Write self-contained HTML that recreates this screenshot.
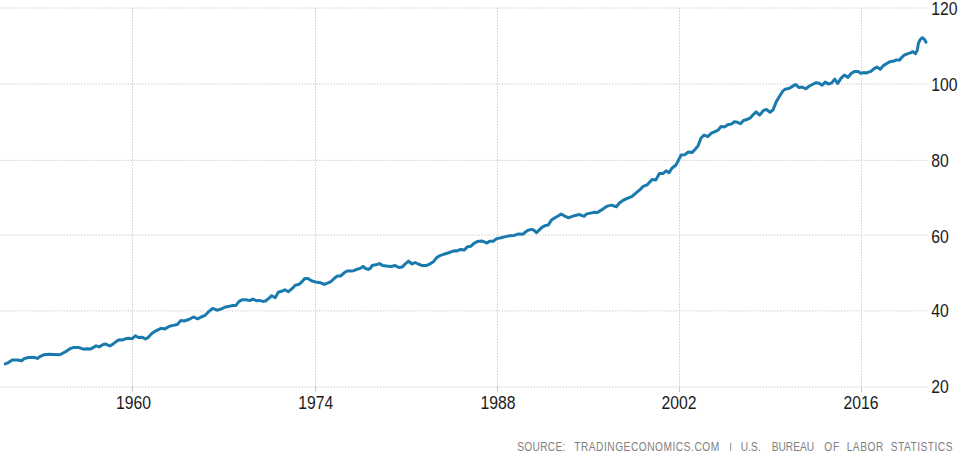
<!DOCTYPE html>
<html><head><meta charset="utf-8"><style>
html,body{margin:0;padding:0;background:#fff;}
body{width:960px;height:454px;overflow:hidden;}
svg{display:block;}
.ax{font-family:"Liberation Sans",sans-serif;font-size:17.5px;fill:#1a1a1a;}
.src{font-family:"Liberation Sans",sans-serif;font-size:12px;fill:#808080;}
</style></head><body>
<svg width="960" height="454" viewBox="0 0 960 454">
<line x1="0" y1="8" x2="928" y2="8" stroke="#cacaca" stroke-width="1" stroke-dasharray="1.4,1.5"/>
<line x1="0" y1="84.1" x2="928" y2="84.1" stroke="#cacaca" stroke-width="1" stroke-dasharray="1.4,1.5"/>
<line x1="0" y1="160.4" x2="928" y2="160.4" stroke="#cacaca" stroke-width="1" stroke-dasharray="1.4,1.5"/>
<line x1="0" y1="235" x2="928" y2="235" stroke="#cacaca" stroke-width="1" stroke-dasharray="1.4,1.5"/>
<line x1="0" y1="310.9" x2="928" y2="310.9" stroke="#cacaca" stroke-width="1" stroke-dasharray="1.4,1.5"/>
<line x1="0" y1="387" x2="928" y2="387" stroke="#cacaca" stroke-width="1" stroke-dasharray="1.4,1.5"/>
<line x1="132.5" y1="8" x2="132.5" y2="387" stroke="#cacaca" stroke-width="1" stroke-dasharray="1.4,1.5"/>
<line x1="132.5" y1="387" x2="132.5" y2="392" stroke="#cacaca" stroke-width="1"/>
<line x1="315.5" y1="8" x2="315.5" y2="387" stroke="#cacaca" stroke-width="1" stroke-dasharray="1.4,1.5"/>
<line x1="315.5" y1="387" x2="315.5" y2="392" stroke="#cacaca" stroke-width="1"/>
<line x1="497.5" y1="8" x2="497.5" y2="387" stroke="#cacaca" stroke-width="1" stroke-dasharray="1.4,1.5"/>
<line x1="497.5" y1="387" x2="497.5" y2="392" stroke="#cacaca" stroke-width="1"/>
<line x1="679.5" y1="8" x2="679.5" y2="387" stroke="#cacaca" stroke-width="1" stroke-dasharray="1.4,1.5"/>
<line x1="679.5" y1="387" x2="679.5" y2="392" stroke="#cacaca" stroke-width="1"/>
<line x1="861.5" y1="8" x2="861.5" y2="387" stroke="#cacaca" stroke-width="1" stroke-dasharray="1.4,1.5"/>
<line x1="861.5" y1="387" x2="861.5" y2="392" stroke="#cacaca" stroke-width="1"/>
<text x="931.3" y="14.8" class="ax" transform="translate(931.3 0) scale(0.9 1) translate(-931.3 0)">120</text>
<text x="931.3" y="91.0" class="ax" transform="translate(931.3 0) scale(0.9 1) translate(-931.3 0)">100</text>
<text x="931.3" y="167.2" class="ax" transform="translate(931.3 0) scale(0.9 1) translate(-931.3 0)">80</text>
<text x="931.3" y="243.2" class="ax" transform="translate(931.3 0) scale(0.9 1) translate(-931.3 0)">60</text>
<text x="931.3" y="317.1" class="ax" transform="translate(931.3 0) scale(0.9 1) translate(-931.3 0)">40</text>
<text x="931.3" y="393.2" class="ax" transform="translate(931.3 0) scale(0.9 1) translate(-931.3 0)">20</text>
<text x="133.6" y="409" class="ax" text-anchor="middle" transform="translate(133.6 0) scale(0.9 1) translate(-133.6 0)">1960</text>
<text x="315.7" y="409" class="ax" text-anchor="middle" transform="translate(315.7 0) scale(0.9 1) translate(-315.7 0)">1974</text>
<text x="497.9" y="409" class="ax" text-anchor="middle" transform="translate(497.9 0) scale(0.9 1) translate(-497.9 0)">1988</text>
<text x="679" y="409" class="ax" text-anchor="middle" transform="translate(679 0) scale(0.9 1) translate(-679 0)">2002</text>
<text x="860.9" y="409" class="ax" text-anchor="middle" transform="translate(860.9 0) scale(0.9 1) translate(-860.9 0)">2016</text>
<path d="M5.3,363.9 L8.4,362.6 L12.3,360.0 L17.6,360.1 L21.6,360.8 L24.2,358.6 L28.2,357.5 L33.5,357.3 L37.4,358.4 L40.5,356.3 L44.1,354.7 L49.3,354.2 L54.6,354.5 L59.0,354.8 L61.7,353.8 L65.2,351.9 L69.6,348.9 L73.1,347.6 L76.7,347.4 L78.5,347.4 L81.2,348.3 L83.8,349.2 L87.3,348.7 L90.9,348.9 L93.5,347.4 L96.1,345.8 L99.2,346.9 L103.2,344.5 L105.8,344.1 L109.8,346.0 L112.9,344.1 L116.4,341.4 L119.1,339.8 L122.1,340.1 L125.2,338.8 L128.7,338.3 L132.3,338.8 L135.4,335.7 L138.4,337.5 L142.0,337.2 L145.5,339.0 L148.1,337.5 L151.5,333.8 L155.3,331.1 L161.0,328.3 L165.0,328.9 L169.4,326.3 L173.3,325.4 L177.3,324.5 L180.8,320.6 L184.4,321.0 L188.8,319.5 L193.6,317.0 L197.6,318.8 L201.1,317.0 L204.6,315.7 L208.1,312.2 L212.6,308.4 L217.0,310.2 L221.4,308.9 L225.5,307.0 L229.4,306.2 L232.9,305.4 L236.0,305.4 L239.1,301.4 L242.6,299.7 L246.1,299.8 L249.7,300.6 L252.8,299.0 L256.3,300.7 L259.4,300.4 L262.9,301.4 L265.5,301.0 L269.1,298.1 L271.7,295.7 L275.2,297.7 L278.3,292.2 L281.4,291.3 L284.9,289.8 L288.4,291.7 L292.0,288.7 L295.0,285.4 L299.0,284.3 L301.7,282.0 L304.8,278.4 L307.9,278.4 L311.5,280.8 L315.4,281.9 L320.7,282.8 L324.2,284.4 L328.2,282.8 L331.3,281.3 L334.4,278.2 L337.4,276.0 L340.5,276.0 L343.6,273.3 L346.7,271.1 L350.7,271.1 L353.7,270.7 L357.3,269.2 L360.8,268.1 L363.0,266.3 L365.6,268.5 L368.3,269.4 L370.5,268.1 L372.2,265.4 L375.8,264.8 L379.4,263.6 L382.5,265.4 L386.5,266.0 L390.9,266.4 L395.3,265.6 L398.8,267.5 L402.3,266.9 L405.4,263.8 L408.5,261.1 L412.0,264.0 L415.1,262.5 L418.2,264.0 L421.7,265.4 L426.1,265.6 L429.6,264.2 L433.6,261.6 L436.7,257.6 L439.8,255.7 L443.7,254.3 L448.1,253.0 L451.7,251.6 L454.5,250.7 L457.0,250.9 L460.6,249.5 L464.1,250.1 L467.6,246.7 L470.7,246.3 L473.8,243.6 L477.3,241.4 L481.7,241.0 L484.8,242.1 L487.0,243.0 L489.6,241.3 L493.2,241.3 L496.7,238.6 L501.1,237.7 L505.5,236.6 L509.9,235.7 L514.3,235.4 L518.7,233.9 L523.1,234.2 L525.8,231.7 L528.1,230.2 L531.6,229.4 L533.8,230.2 L536.5,232.7 L539.1,230.2 L542.2,227.2 L545.7,225.4 L548.3,225.0 L551.4,220.1 L555.0,217.7 L558.5,215.7 L561.1,213.9 L564.6,216.1 L568.2,217.7 L571.7,216.6 L575.2,215.4 L579.6,214.6 L584.0,216.3 L586.7,213.9 L590.6,213.1 L594.6,212.2 L597.2,212.6 L600.8,210.4 L603.6,208.5 L607.3,206.1 L611.5,205.1 L616.4,206.7 L619.4,203.0 L623.6,200.0 L627.9,198.2 L632.1,196.4 L636.4,192.7 L640.0,189.7 L643.0,186.4 L647.3,184.8 L652.1,179.4 L655.8,180.0 L659.4,173.6 L663.0,173.6 L666.1,170.9 L669.1,172.7 L672.1,167.9 L675.8,165.3 L678.0,161.1 L681.1,155.0 L684.7,154.8 L688.3,152.0 L692.0,152.6 L695.0,149.5 L698.0,145.9 L701.1,138.0 L704.1,135.0 L707.7,136.6 L711.4,133.2 L715.0,131.7 L718.0,130.2 L721.1,126.5 L724.7,126.9 L727.7,124.7 L731.4,124.1 L734.4,121.7 L737.4,122.3 L740.5,123.7 L743.5,120.5 L747.7,119.2 L750.4,117.9 L753.0,114.8 L756.1,111.8 L759.7,115.1 L763.3,110.6 L766.4,109.4 L770.0,112.2 L773.0,110.0 L776.1,102.1 L779.7,96.1 L782.7,91.2 L785.2,89.2 L789.4,88.2 L792.4,86.4 L795.5,84.5 L799.1,87.6 L802.1,87.0 L805.8,88.8 L809.4,86.0 L812.4,84.5 L816.1,82.7 L819.1,83.3 L822.1,85.2 L825.2,82.1 L828.6,84.1 L831.7,82.9 L834.7,79.2 L837.7,83.5 L840.8,78.6 L844.4,75.0 L848.0,77.4 L851.1,73.5 L854.7,71.4 L857.7,71.4 L860.8,73.2 L864.4,72.6 L866.0,73.0 L868.5,72.1 L870.9,71.4 L874.0,68.7 L876.8,67.1 L880.2,69.3 L883.3,65.6 L886.4,63.7 L890.1,61.6 L893.1,61.3 L896.2,60.0 L899.6,60.0 L901.8,57.3 L904.2,55.1 L908.0,53.6 L910.4,52.9 L912.9,51.7 L915.4,53.7 L917.2,50.5 L918.5,43.0 L920.2,39.6 L922.4,37.7 L924.2,39.1 L926.0,42.2" fill="none" stroke="#1a7aae" stroke-width="3" stroke-linejoin="round" stroke-linecap="round"/>
<text x="608.59" y="450.6" class="src" transform="scale(0.85 1)" textLength="56.59" lengthAdjust="spacing">SOURCE:</text>
<text x="675.53" y="450.6" class="src" transform="scale(0.85 1)" textLength="170.59" lengthAdjust="spacing">TRADINGECONOMICS.COM</text>
<text x="871.53" y="450.6" class="src" transform="scale(0.85 1)" textLength="23.53" lengthAdjust="spacing">U.S.</text>
<text x="907.88" y="450.6" class="src" transform="scale(0.85 1)" textLength="50.00" lengthAdjust="spacing">BUREAU</text>
<text x="969.65" y="450.6" class="src" transform="scale(0.85 1)" textLength="17.65" lengthAdjust="spacing">OF</text>
<text x="996.12" y="450.6" class="src" transform="scale(0.85 1)" textLength="43.06" lengthAdjust="spacing">LABOR</text>
<text x="1048.00" y="450.6" class="src" transform="scale(0.85 1)" textLength="72.59" lengthAdjust="spacing">STATISTICS</text>
<line x1="730.6" y1="443" x2="730.6" y2="450.8" stroke="#9a9a9a" stroke-width="1.1"/>
</svg>
</body></html>
